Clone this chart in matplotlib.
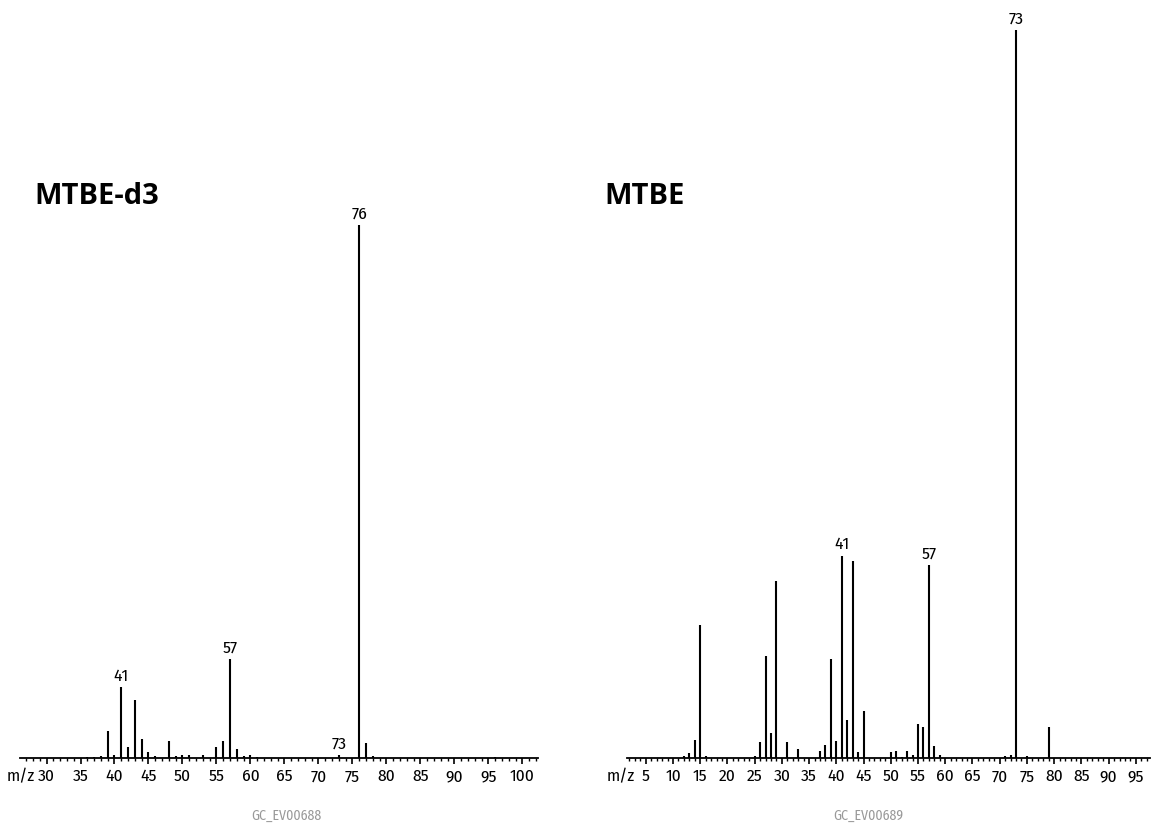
import numpy as np
import matplotlib
matplotlib.use("Agg")
import matplotlib.pyplot as plt
from matplotlib.ticker import MultipleLocator

# MTBE-d3 spectrum (relative intensity, %)
d3_mz = [36, 37, 38, 39, 40, 41, 42, 43, 44, 45, 46, 48, 49, 50, 51, 53, 55, 56, 57, 58, 59, 60, 61, 73, 76, 77, 78, 96]
d3_int = [0.2, 0.2, 0.4, 5.1, 0.6, 13.3, 2.1, 10.9, 3.6, 1.1, 0.4, 3.2, 0.3, 0.5, 0.6, 0.6, 2.1, 3.2, 18.6, 1.6, 0.4, 0.5, 0.2, 0.5, 100, 2.8, 0.4, 0.1]
d3_labels = [41, 57, 73, 76]

# MTBE spectrum
mtbe_mz = [12, 13, 14, 15, 16, 25, 26, 27, 28, 29, 31, 33, 37, 38, 39, 40, 41, 42, 43, 44, 45,
           50, 51, 52, 53, 54, 55, 56, 57, 58, 59, 71, 72, 73, 75, 79]
mtbe_int = [0.3, 0.7, 2.5, 18.3, 0.3, 0.3, 2.2, 14.0, 3.4, 24.3, 2.2, 1.2, 0.9, 1.8, 13.6, 2.3, 27.8, 5.2, 27.1, 0.8, 6.4,
            0.8, 0.9, 0.2, 1.0, 0.4, 4.7, 4.3, 26.5, 1.7, 0.4, 0.3, 0.4, 100, 0.3, 4.3]
mtbe_labels = [41, 57, 73]

W, H = 1151, 828
fig = plt.figure(figsize=(W / 100, H / 100), dpi=100)

narrow = ["Fira Sans Condensed", "Liberation Sans Narrow", "DejaVu Sans"]
bold = ["Open Sans", "DejaVu Sans"]


def px_axes(x0, x1, ybase, ytop):
    return fig.add_axes([x0 / W, (H - ybase) / H, (x1 - x0) / W, (ybase - ytop) / H])


def draw_spectrum(ax, mz, inten, labels, xlim, first_tick):
    ax.vlines(mz, 0, inten, colors="black", linewidth=1.5)
    ax.set_xlim(*xlim)
    ax.set_ylim(0, 100)
    for s in ["top", "left", "right"]:
        ax.spines[s].set_visible(False)
    ax.spines["bottom"].set_linewidth(1.3)
    ax.set_yticks([])
    ax.xaxis.set_major_locator(MultipleLocator(5))
    ax.xaxis.set_minor_locator(MultipleLocator(1))
    ax.tick_params(axis="x", which="major", length=4, width=1.2, pad=3, labelsize=12.5)
    ax.tick_params(axis="x", which="minor", length=2.5, width=1.0)
    ticks = [t for t in ax.get_xticks() if t >= first_tick and t <= xlim[1]]
    ax.set_xticks(ticks)
    ax.set_xticklabels([str(int(t)) for t in ticks], family=narrow)
    for m in labels:
        v = inten[mz.index(m)]
        ax.annotate(str(m), (m, v), xytext=(0, 3), textcoords="offset points",
                    ha="center", va="bottom", fontsize=12.5, family=narrow, clip_on=False)


ax1 = px_axes(20, 538, 759, 226)
draw_spectrum(ax1, d3_mz, d3_int, d3_labels, (26.1, 102.3), 30)
ax2 = px_axes(627, 1150, 759, 31)
draw_spectrum(ax2, mtbe_mz, mtbe_int, mtbe_labels, (1.55, 97.6), 5)

fig.text(21 / W, 1 - 777 / H, "m/z", ha="center", va="center", fontsize=12.5, family=narrow)
fig.text(621 / W, 1 - 777 / H, "m/z", ha="center", va="center", fontsize=12.5, family=narrow)

fig.text(34 / W, 1 - 197 / H, "MTBE-d3", ha="left", va="center", fontsize=21,
         fontweight="bold", family=bold)
fig.text(604 / W, 1 - 197 / H, "MTBE", ha="left", va="center", fontsize=21,
         fontweight="bold", family=bold)

fig.text(286 / W, 1 - 816 / H, "GC_EV00688", ha="center", va="center", fontsize=10,
         color="#999999", family=narrow)
fig.text(868 / W, 1 - 816 / H, "GC_EV00689", ha="center", va="center", fontsize=10,
         color="#999999", family=narrow)

fig.savefig("out.png", dpi=100)
